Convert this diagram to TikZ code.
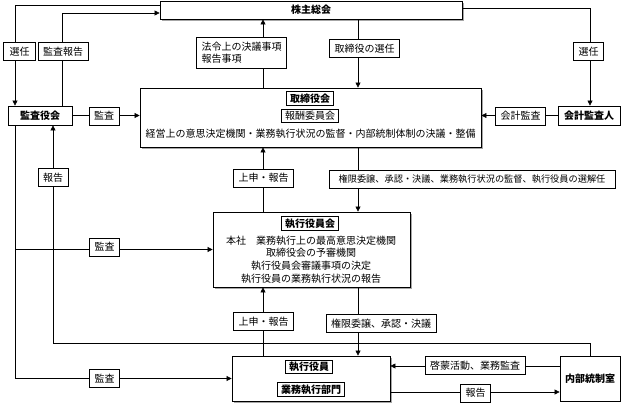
\documentclass[tikz,border=0pt]{standalone}
\usepackage{fontspec}
\setmainfont{Noto Sans CJK JP}
\usetikzlibrary{arrows.meta,shadows}

\begin{document}
\begin{tikzpicture}[x=1pt,y=-1pt,
    every node/.style={font=\fontsize{10pt}{12pt}\selectfont, inner sep=0pt},
    mainbox/.style={draw, line width=0.8pt, fill=white,
        drop shadow={shadow xshift=2pt, shadow yshift=-2pt, fill=gray!70, opacity=1}},
    sidebox/.style={draw, line width=0.8pt, fill=white, font=\fontsize{10pt}{12pt}\selectfont\bfseries},
    ttl/.style={draw, line width=0.6pt, fill=white, inner xsep=3.5pt, minimum height=13.5,
        font=\fontsize{10pt}{12pt}\selectfont\bfseries},
    lbl/.style={draw, line width=0.6pt, fill=white, inner xsep=5pt, minimum height=18},
    arr/.style={line width=0.6pt, -{Triangle[length=5pt,width=5pt]}},
    ln/.style={line width=0.6pt}]
    \useasboundingbox (0,0) rectangle (621,404);

    % boxes
    \node[mainbox, minimum width=302, minimum height=18, font=\fontsize{10pt}{12pt}\selectfont\bfseries]
        (soukai) at (311,10) {株主総会};
    \node[mainbox, minimum width=341, minimum height=59] (tori) at (310.5,117.5) {};
    \node[ttl] (tori-ttl) at (310,98.5) {取締役会};
    \node[ttl, font=\fontsize{10pt}{12pt}\selectfont] (houshu) at (310,116) {報酬委員会};
    \node (tori-txt) at (310.5,134) {経営上の意思決定機関・業務執行状況の監督・内部統制体制の決議・整備};
    \node[sidebox, minimum width=64, minimum height=19] (kansa) at (40,115.5) {監査役会};
    \node[sidebox, minimum width=62, minimum height=19] (kaikei) at (589,115.5) {会計監査人};
    \node[mainbox, minimum width=197, minimum height=75] (shikkou) at (311.5,249.5) {};
    \node[ttl] (shikkou-ttl) at (310,223.5) {執行役員会};
    \node[align=center, font=\fontsize{10pt}{12.8pt}\selectfont] (shikkou-txt) at (311,259.5)
        {本社　業務執行上の最高意思決定機関\\取締役会の予審機関\\執行役員会審議事項の決定\\執行役員の業務執行状況の報告};
    \node[mainbox, minimum width=158, minimum height=45] (gyomu) at (311,378.5) {};
    \node[ttl] (yakuin) at (309,367) {執行役員};
    \node[ttl] (bumon) at (311,389.5) {業務執行部門};
    \node[sidebox, minimum width=60, minimum height=45] (naibu) at (590,378.5) {内部統制室};

    % connectors
    \draw[arr] (soukai.west |- 0,5) -| (15,0 |- kansa.north);
    \draw[arr] (62,0 |- kansa.north) |- (soukai.west |- 0,13);
    \draw[arr] (263,0 |- tori.north) -- (263,0 |- soukai.south);
    \draw[arr] (358,0 |- soukai.south) -- (358,0 |- tori.north);
    \draw[arr] (soukai.east |- 0,8) -| (590,0 |- kaikei.north);
    \draw[arr] (kansa.east) -- (tori.west |- kansa.east);
    \draw[arr] (kaikei.west) -- (tori.east |- kaikei.west);
    \draw[arr] (590,0 |- naibu.north) |- (53,343) -- (53,0 |- kansa.south);
    \draw[arr] (15,0 |- kansa.south) |- (gyomu.west);
    \draw[arr] (15,0 |- shikkou.west) -- (shikkou.west);
    \draw[arr] (263,0 |- shikkou.north) -- (263,0 |- tori.south);
    \draw[arr] (358,0 |- tori.south) -- (358,0 |- shikkou.north);
    \draw[arr] (263,0 |- gyomu.north) -- (263,0 |- shikkou.south);
    \draw[arr] (358,0 |- shikkou.south) -- (358,0 |- gyomu.north);
    \draw[arr] (naibu.west |- 0,366) -- (gyomu.east |- 0,366);
    \draw[arr] (gyomu.east |- 0,392) -- (naibu.west |- 0,392);

    % labels
    \node[lbl, inner xsep=6pt] (l-sennin1) at (19.5,51.5) {選任};
    \node[lbl] (l-kansahoukoku) at (63,51.5) {監査報告};
    \node[lbl, align=left, minimum width=89, minimum height=31] (l-hourei) at (241.5,52.5)
        {法令上の決議事項\\報告事項};
    \node[lbl] (l-senin-tori) at (364.5,48.5) {取締役の選任};
    \node[lbl] (l-sennin2) at (588.5,51.5) {選任};
    \node[lbl] (l-kansa1) at (104,116) {監査};
    \node[lbl] (l-kaikei) at (520.5,116) {会計監査};
    \node[lbl] (l-houkoku1) at (53,177.5) {報告};
    \node[lbl] (l-joushin1) at (263.5,178) {上申・報告};
    \node[lbl, font=\fontsize{9.2pt}{11pt}\selectfont, minimum width=286] (l-kengen1) at (472,179)
        {権限委譲、承認・決議、業務執行状況の監督、執行役員の選解任};
    \node[lbl] (l-kansa2) at (104.5,247) {監査};
    \node[lbl] (l-joushin2) at (263.5,321.5) {上申・報告};
    \node[lbl] (l-kengen2) at (381,323.5) {権限委譲、承認・決議};
    \node[lbl] (l-kansa3) at (104.5,378.5) {監査};
    \node[lbl] (l-keimou) at (475,365.5) {啓蒙活動、業務監査};
    \node[lbl] (l-houkoku2) at (475.5,393) {報告};
\end{tikzpicture}
\end{document}
